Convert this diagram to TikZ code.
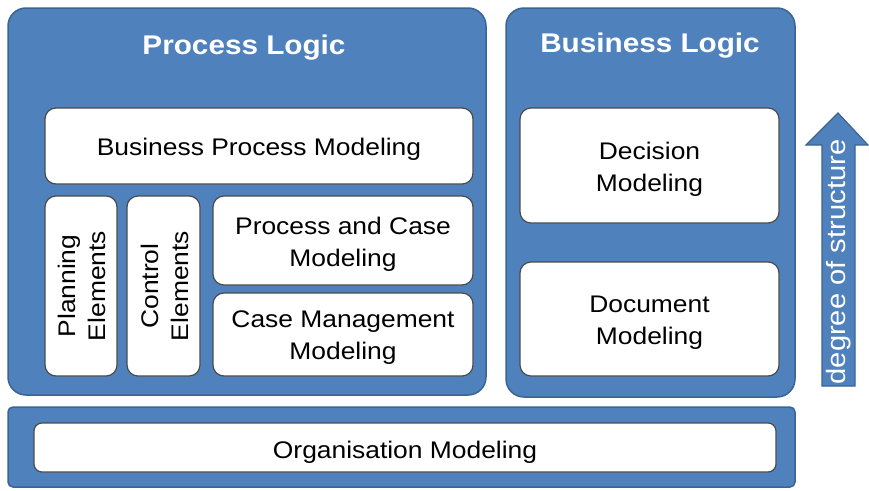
\documentclass[tikz,border=0pt]{standalone}
\usepackage{fontspec}
\setmainfont[FakeStretch=1.1]{Liberation Sans}
\definecolor{pblue}{HTML}{4F81BD}
\definecolor{pborder}{HTML}{3A6494}
\definecolor{bborder}{HTML}{4A4A4A}
\tikzset{
  panel/.style={draw=pborder, line width=1.5pt, fill=pblue, rounded corners=18pt, inner sep=0pt},
  bar/.style={draw=pborder, line width=1.5pt, fill=pblue, rounded corners=5pt, inner sep=0pt},
  wbox/.style={draw=bborder, line width=1.2pt, fill=white, rounded corners=11pt, inner sep=0pt},
  wtext/.style={align=center, inner sep=0pt, yshift=-3.5pt, font=\fontsize{24}{32}\selectfont},
  rtext/.style={align=center, inner sep=0pt, rotate=90, font=\fontsize{24}{30}\selectfont},
  title/.style={text=white, font=\fontsize{27}{34}\selectfont\bfseries},
  arrowtext/.style={text=white, rotate=90, font=\fontsize{26.5}{30}\selectfont}
}
\begin{document}
\begin{tikzpicture}[x=1pt,y=-1pt]
\useasboundingbox (0,0) rectangle (869,490);
% panels
\node[panel, minimum width=478pt, minimum height=387pt] (pl) at (247,201.5) {};
\node[panel, minimum width=289pt, minimum height=389pt] (bl) at (650.5,202.5) {};
\node[bar, minimum width=787pt, minimum height=80pt] (ob) at (401.5,447) {};
% titles
\node[title] (plt) at (244,48) {Process Logic};
\node[title] (blt) at (650,46) {Business Logic};
% white boxes
\node[wbox, minimum width=428pt, minimum height=76pt] (bpm) at (259,146) {};
\node[wtext] (bpmt) at (bpm.center) {Business Process Modeling};
\node[wbox, minimum width=72pt, minimum height=180pt] (pe) at (81,286) {};
\node[rtext] (pet) at ([xshift=1pt]pe.center) {Planning\\Elements};
\node[wbox, minimum width=73pt, minimum height=180pt] (ce) at (163.5,286) {};
\node[rtext] (cet) at ([xshift=1pt]ce.center) {Control\\Elements};
\node[wbox, minimum width=260pt, minimum height=89pt] (pcm) at (343,240.5) {};
\node[wtext] (pcmt) at (pcm.center) {Process and Case\\Modeling};
\node[wbox, minimum width=260pt, minimum height=83pt] (cmm) at (343,334.5) {};
\node[wtext] (cmmt) at (cmm.center) {Case Management\\Modeling};
\node[wbox, minimum width=259pt, minimum height=115pt] (dm) at (649.5,165.5) {};
\node[wtext] (dmt) at (dm.center) {Decision\\Modeling};
\node[wbox, minimum width=259pt, minimum height=114pt] (docm) at (649.5,319) {};
\node[wtext] (docmt) at (docm.center) {Document\\Modeling};
\node[wbox, rounded corners=8pt, minimum width=742pt, minimum height=49pt] (om) at (405,447.5) {};
\node[wtext, yshift=-1pt] (omt) at (om.center) {Organisation Modeling};
% arrow
\draw[draw=pborder, line width=1.2pt, fill=pblue, line join=miter]
  (822,386) -- (822,145) -- (806,145) -- (838,113) -- (868,145) -- (855,145) -- (855,386) -- cycle;
\node[arrowtext] (ds) at (839,262) {degree of structure};
\end{tikzpicture}
\end{document}
